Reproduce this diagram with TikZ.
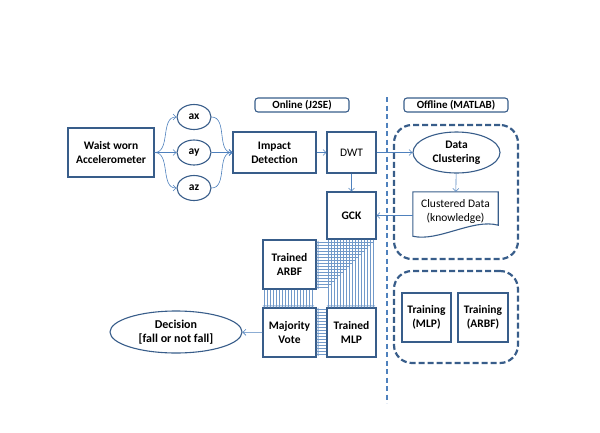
\documentclass[tikz,border=0pt]{standalone}
\usepackage{fontspec}
\setmainfont{Carlito}
\usetikzlibrary{arrows.meta,positioning,shapes.geometric}
\definecolor{boxblue}{RGB}{56,93,138}
\definecolor{lineblue}{RGB}{79,129,189}

\begin{document}
\begin{tikzpicture}[
  x=1pt, y=-1pt,
  every node/.style={font=\fontsize{11.5}{14}\selectfont\bfseries, align=center, inner sep=0pt},
  box/.style={draw=boxblue, line width=1.1pt},
  oval/.style={ellipse, draw=boxblue, line width=1.1pt},
  tag/.style={draw=boxblue, line width=1.1pt, rounded corners=3pt, minimum height=14, font=\fontsize{11}{12}\selectfont\bfseries},
  region/.style={draw=boxblue, line width=2.2pt, dash pattern=on 6pt off 3pt, rounded corners=18pt},
  arr/.style={-{Straight Barb[length=3pt,width=6pt]}, draw=lineblue, line width=0.6pt},
  bus/.style={-{Straight Barb[length=2pt,width=3pt]}, draw=lineblue!80, line width=0.35pt}
]
\useasboundingbox (0,0) rectangle (600,432);

\node[box, minimum width=86, minimum height=49] (waist) at (111,152.5) {Waist worn\\Accelerometer};

\node[oval, minimum width=34, minimum height=25] (ax) at (194,117) {ax};
\node[oval, minimum width=34, minimum height=25] (ay) at (194,152.5) {ay};
\node[oval, minimum width=34, minimum height=25] (az) at (194,188) {az};

\node[box, minimum width=83, minimum height=41] (impact) at (274.5,152.5) {Impact\\Detection};
\node[box, minimum width=49, minimum height=41, font=\fontsize{11.5}{14}\selectfont] (dwt) at (351.5,152.5) {DWT};
\node[box, minimum width=49, minimum height=47] (gck) at (351.5,215.5) {GCK};

\node[box, minimum width=53, minimum height=49] (arbf) at (289.5,264.5) {Trained\\ARBF};
\node[box, minimum width=53, minimum height=49] (vote) at (289.5,332.5) {Majority\\Vote};
\node[box, minimum width=49, minimum height=49] (mlp) at (351.5,332.5) {Trained\\MLP};

\node[oval, minimum width=132, minimum height=42, font=\fontsize{12}{14.5}\selectfont\bfseries] (decision) at (176,332) {Decision\\{[}fall or not fall{]}};

\node[tag, minimum width=94] (online) at (302,105) {Online (J2SE)};
\node[tag, minimum width=104] (offline) at (456,105) {Offline (MATLAB)};

\coordinate (divtop) at (387,97);
\coordinate (divbot) at (387,403);
\draw[lineblue, line width=1.8pt, dash pattern=on 5pt off 3.5pt] (divtop) -- (divbot);

\node[region, minimum width=124, minimum height=134] (learn) at (456,192) {};
\node[region, minimum width=124, minimum height=92] (train) at (456,317) {};

\node[oval, minimum width=87, minimum height=41] (cluster) at (456.5,152.5) {Data\\Clustering};
\node[minimum width=85, minimum height=38, font=\fontsize{11.5}{14}\selectfont] (data) at (455.5,211) {Clustered Data\\(knowledge)};
\draw[boxblue, line width=1.1pt] (data.north west) -- (data.north east) -- ([yshift=5pt]data.south east)
  .. controls ([xshift=-25pt,yshift=12pt]data.south east) and ([xshift=25pt,yshift=-12pt]data.south west) .. ([yshift=-6pt]data.south west) -- cycle;

\node[box, minimum width=49, minimum height=49] (tmlp) at (426.5,317.5) {Training\\(MLP)};
\node[box, minimum width=50, minimum height=49] (tarbf) at (483,317.5) {Training\\(ARBF)};

\draw[arr] (waist.east) to[out=0, in=180] (ax.west);
\draw[arr] (waist.east) -- (ay.west);
\draw[arr] (waist.east) to[out=0, in=180] (az.west);
\draw[arr] (ax.east) to[out=0, in=180] (impact.west);
\draw[arr] (ay.east) -- (impact.west);
\draw[arr] (az.east) to[out=0, in=180] (impact.west);
\draw[arr] (impact) -- (dwt);
\draw[arr] (dwt) -- (gck);
\draw[arr] (dwt) -- (cluster);
\draw[arr] (cluster) -- (data);
\draw[arr] (data.west |- gck.east) -- (gck.east);
\draw[arr] (vote) -- (decision);

\foreach \i in {0,...,15} {
  \draw[bus] ([xshift={(2+\i*3)*1pt}]gck.south west) -- ([xshift={(2+\i*3)*1pt}]mlp.north west);
  \draw[bus] ([xshift={(2+\i*3)*1pt}]gck.south west) |- ([yshift={-(3+(15-\i)*3)*1pt}]arbf.north east);
  \draw[bus] ([yshift={-(2+\i*3)*1pt}]mlp.north west) -- ([yshift={-(2+\i*3)*1pt}]vote.north east);
}
\foreach \i in {0,...,16} {
  \draw[bus] ([xshift={(2+\i*3)*1pt}]arbf.south west) -- ([xshift={(2+\i*3)*1pt}]vote.north west);
}

\end{tikzpicture}
\end{document}
